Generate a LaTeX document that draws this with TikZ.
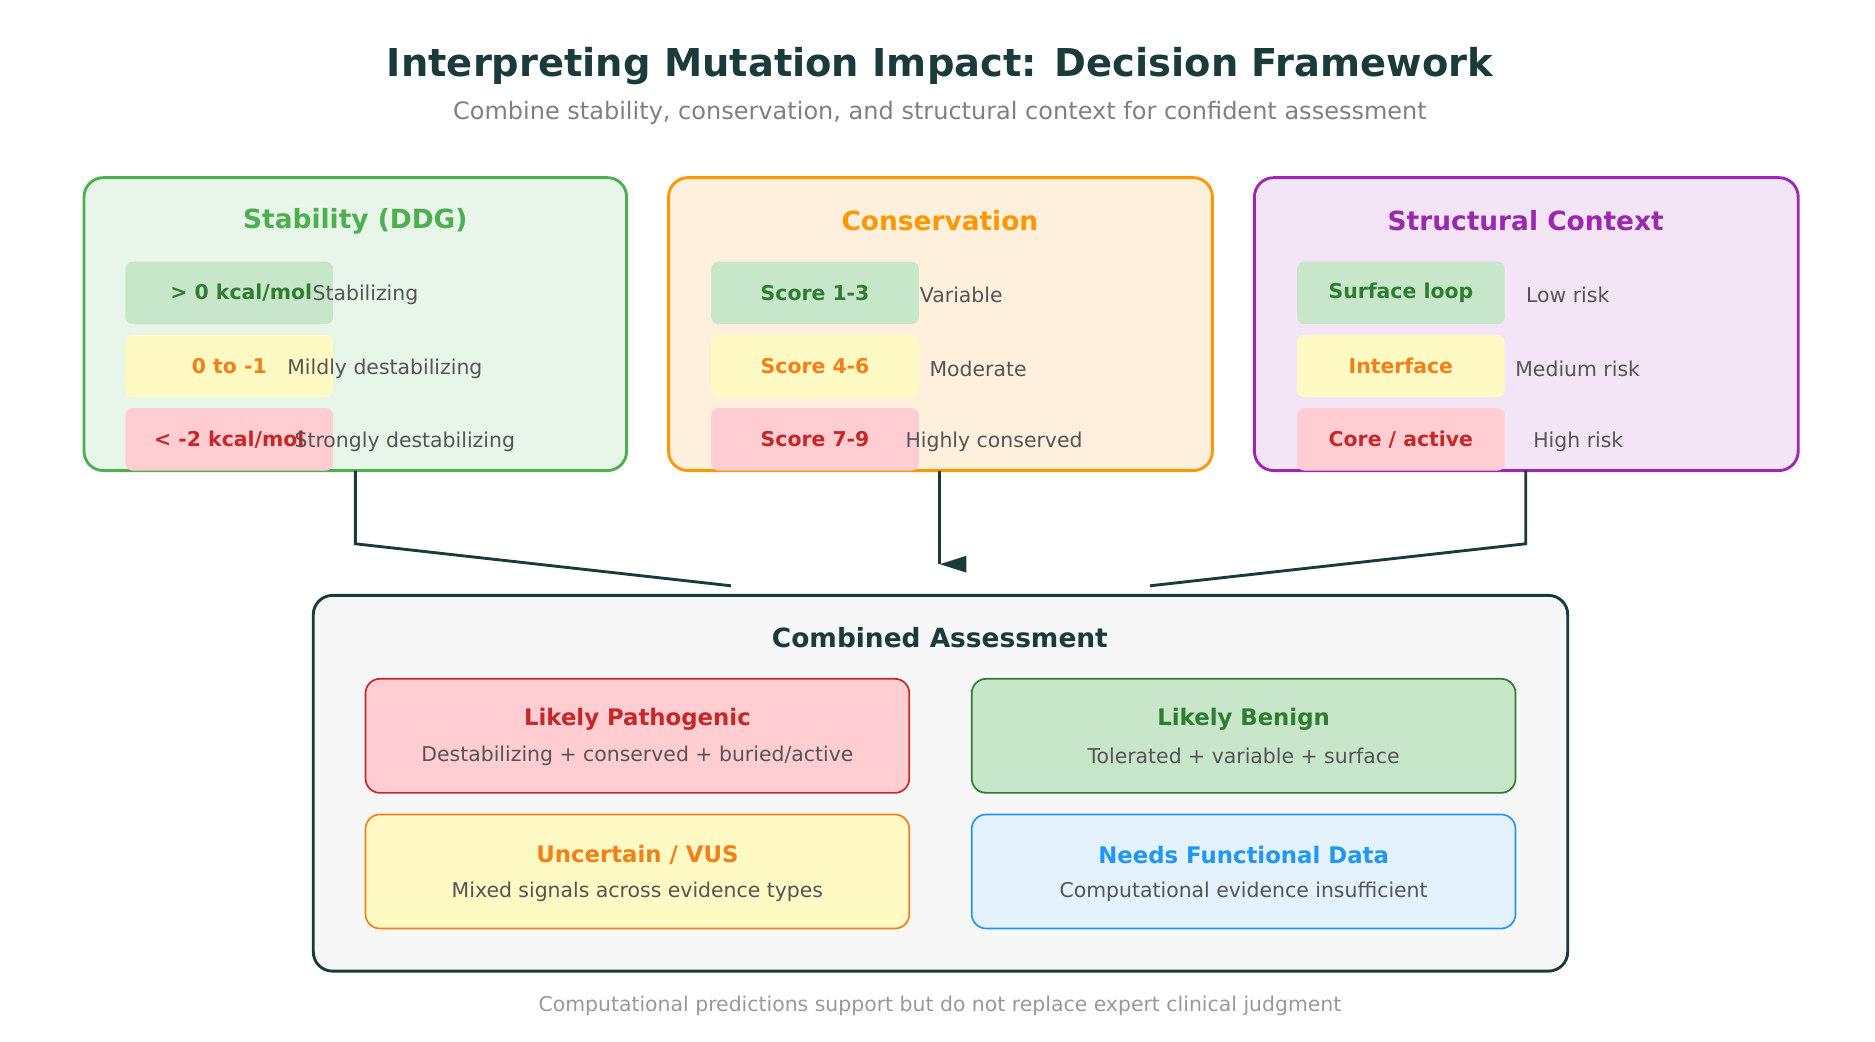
\documentclass[tikz,border=0pt]{standalone}
\usepackage{fontspec}
\setmainfont{DejaVu Sans}
\definecolor{ink}{HTML}{1B3B3B}
\definecolor{txt}{HTML}{555555}
\definecolor{gA}{HTML}{4CAF50}\definecolor{gAf}{HTML}{E8F5E9}
\definecolor{oA}{HTML}{FF9800}\definecolor{oAf}{HTML}{FFF0DE}
\definecolor{pA}{HTML}{9C27B0}\definecolor{pAf}{HTML}{F3E5F5}
\definecolor{gP}{HTML}{C8E6C9}\definecolor{gT}{HTML}{2E7D32}
\definecolor{yP}{HTML}{FFF9C4}\definecolor{yT}{HTML}{F57F17}
\definecolor{rP}{HTML}{FFCDD2}\definecolor{rT}{HTML}{C62828}
\definecolor{bP}{HTML}{E3F2FD}\definecolor{bT}{HTML}{2196F3}
\begin{document}
\begin{tikzpicture}[x=0.5pt,y=-0.5pt]
	\tikzstyle{panel}=[draw,rounded corners=8pt,line width=1.2pt]
	\tikzstyle{pill}=[rounded corners=3pt,minimum width=86.5pt,minimum height=26pt,inner sep=0pt,font=\fontsize{8.5}{10}\selectfont\bfseries]
	\tikzstyle{desc}=[anchor=west,inner sep=0pt,text=txt,font=\fontsize{8.5}{10}\selectfont]
	\tikzstyle{head}=[font=\fontsize{11}{13}\selectfont\bfseries]
	\tikzstyle{verdict}=[draw,rounded corners=6pt,line width=0.7pt,minimum width=226.5pt,minimum height=47.5pt]
	\tikzstyle{vtitle}=[font=\fontsize{9.5}{11}\selectfont\bfseries]
	\tikzstyle{vdesc}=[text=txt,font=\fontsize{8.5}{10}\selectfont]
	\useasboundingbox[fill=white] (0,0) rectangle (1562,868);

	% title
	\node[text=ink,font=\fontsize{16}{19}\selectfont\bfseries] (title) at (783,55) {Interpreting Mutation Impact: Decision Framework};
	\node[text=gray,font=\fontsize{10}{12}\selectfont] (subtitle) at (783,94) {Combine stability, conservation, and structural context for confident assessment};

	% evidence panels
	\draw[panel,draw=gA,fill=gAf] (70,148) rectangle (522,392);
	\draw[panel,draw=oA,fill=oAf] (557,148) rectangle (1010,392);
	\draw[panel,draw=pA,fill=pAf] (1045,148) rectangle (1498,392);
	\node[head,text=gA] (stab) at (296,184) {Stability (DDG)};
	\node[head,text=oA] (cons) at (783,184) {Conservation};
	\node[head,text=pA] (struct) at (1271,184) {Structural Context};

	\node[pill,fill=gP,text=gT] (s1) at (191,244) {\hspace*{10pt}> 0 kcal/mol};
	\node[pill,fill=yP,text=yT] (s2) at (191,305) {0 to -1};
	\node[pill,fill=rP,text=rT] (s3) at (191,366) {< -2 kcal/mol};
	\node[desc] (sd1) at (260,246) {Stabilizing};
	\node[desc] (sd2) at (239,307) {Mildly destabilizing};
	\node[desc] (sd3) at (245,368) {Strongly destabilizing};

	\node[pill,fill=gP,text=gT] (c1) at (679,244) {Score 1-3};
	\node[pill,fill=yP,text=yT] (c2) at (679,305) {Score 4-6};
	\node[pill,fill=rP,text=rT] (c3) at (679,366) {Score 7-9};
	\node[desc] (cd1) at (766,246) {Variable};
	\node[desc] (cd2) at (774,307) {Moderate};
	\node[desc] (cd3) at (754,368) {Highly conserved};

	\node[pill,fill=gP,text=gT] (t1) at (1167,244) {Surface loop};
	\node[pill,fill=yP,text=yT] (t2) at (1167,305) {Interface};
	\node[pill,fill=rP,text=rT] (t3) at (1167,366) {Core / active};
	\node[desc] (td1) at (1271,246) {Low risk};
	\node[desc] (td2) at (1262,307) {Medium risk};
	\node[desc] (td3) at (1277,368) {High risk};

	% combined assessment
	\draw[panel,draw=ink,fill=black!3] (261,496) rectangle (1306,809);
	\node[head,text=ink] (comb) at (783,531) {Combined Assessment};
	\node[verdict,draw=rT,fill=rP] (path) at (531,613) {};
	\node[verdict,draw=gT,fill=gP] (ben) at (1036,613) {};
	\node[verdict,draw=yT,fill=yP] (vus) at (531,726) {};
	\node[verdict,draw=bT,fill=bP] (func) at (1036,726) {};
	\node[vtitle,text=rT] at (531,599) {Likely Pathogenic};
	\node[vdesc] at (531,630) {Destabilizing + conserved + buried/active};
	\node[vtitle,text=gT] at (1036,599) {Likely Benign};
	\node[vdesc] at (1036,630) {Tolerated + variable + surface};
	\node[vtitle,text=yT] at (531,712) {Uncertain / VUS};
	\node[vdesc] at (531,743) {Mixed signals across evidence types};
	\node[vtitle,text=bT] at (1036,712) {Needs Functional Data};
	\node[vdesc] at (1036,743) {Computational evidence insufficient};

	% connectors
	\coordinate (inL) at (609,488);
	\coordinate (inM) at (783,470);
	\coordinate (inR) at (958,488);
	\draw[ink,line width=1.2pt] (296,392) |- (296,453) -- (inL);
	\draw[ink,line width=1.2pt] (783,392) -- (inM);
	\fill[ink] (inM) -- (805,463) -- (805,477) -- cycle;
	\draw[ink,line width=1.2pt] (1271,392) |- (1271,453) -- (inR);

	\node[text=black!40,font=\fontsize{8.5}{10}\selectfont] (foot) at (783,838) {Computational predictions support but do not replace expert clinical judgment};
\end{tikzpicture}
\end{document}
